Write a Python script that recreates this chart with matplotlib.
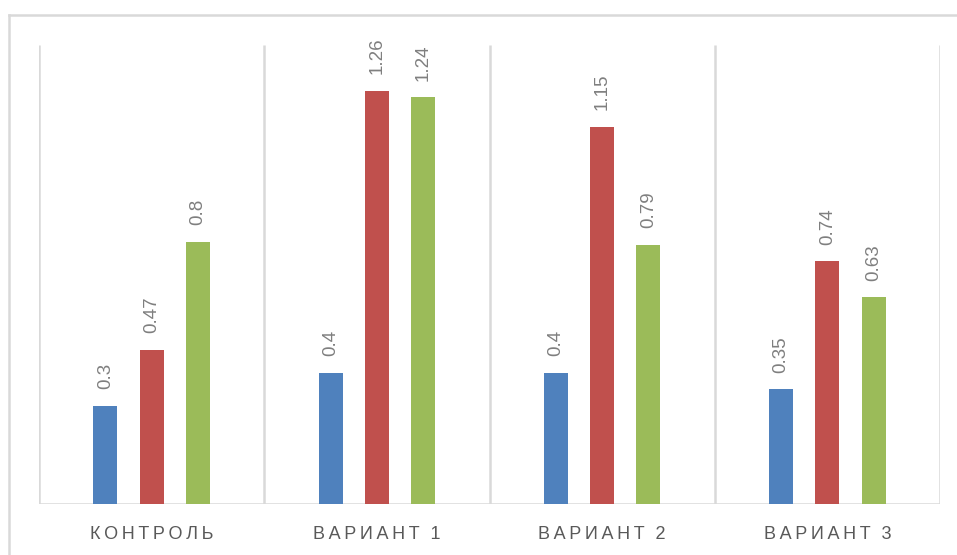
import matplotlib
matplotlib.use("Agg")
import matplotlib.pyplot as plt
from matplotlib.lines import Line2D
import numpy as np

categories = ["КОНТРОЛЬ", "ВАРИАНТ 1", "ВАРИАНТ 2", "ВАРИАНТ 3"]
series_1 = [0.30, 0.40, 0.40, 0.35]
series_2 = [0.47, 1.26, 1.15, 0.74]
series_3 = [0.80, 1.24, 0.79, 0.63]

colors = ["#4F81BD", "#C0504D", "#9BBB59"]
grid_color = "#D9D9D9"

plt.rcParams["font.family"] = ["Liberation Sans", "DejaVu Sans"]

W, H = 957, 555
fig = plt.figure(figsize=(W / 100, H / 100), dpi=100)
ax = fig.add_axes([39 / W, 51 / H, (940 - 39) / W, (504 - 45) / H])

x = np.arange(len(categories))
width = 0.107
offset = 0.205

for i, (vals, c) in enumerate(zip([series_1, series_2, series_3], colors)):
    bars = ax.bar(x + (i - 1) * offset, vals, width=width, color=c, zorder=3)
    for b, v in zip(bars, vals):
        ax.annotate(f"{v:g}", (b.get_x() + b.get_width() / 2, b.get_height()),
                    xytext=(0, 12), textcoords="offset points",
                    ha="center", va="bottom", rotation=90,
                    fontsize=13.5, color="#7F7F7F")

ax.set_xlim(-0.5, len(categories) - 0.5)
ax.set_ylim(0, 1.4)

# separators between categories and the baseline
ax.vlines(np.arange(len(categories) + 1) - 0.5, 0, 1.4, color=grid_color, lw=1.8, zorder=1)
ax.axhline(0, color=grid_color, lw=1.8, zorder=2)

for s in ax.spines.values():
    s.set_visible(False)
ax.set_yticks([])
ax.set_xticks(x)
# letter-spaced category names
spaced = ["\u2009".join(c.replace(" ", "\u2009")) for c in categories]
ax.set_xticklabels(spaced, fontsize=13, color="#595959")
ax.tick_params(axis="x", length=0, pad=16)

# chart area frame (top and left edges)
fig.add_artist(Line2D([9 / W, 9 / W], [0, 1 - 15 / H], color=grid_color, lw=1.8))
fig.add_artist(Line2D([9 / W, 1], [1 - 15 / H, 1 - 15 / H], color=grid_color, lw=1.8))

fig.savefig("out.png", dpi=100)
